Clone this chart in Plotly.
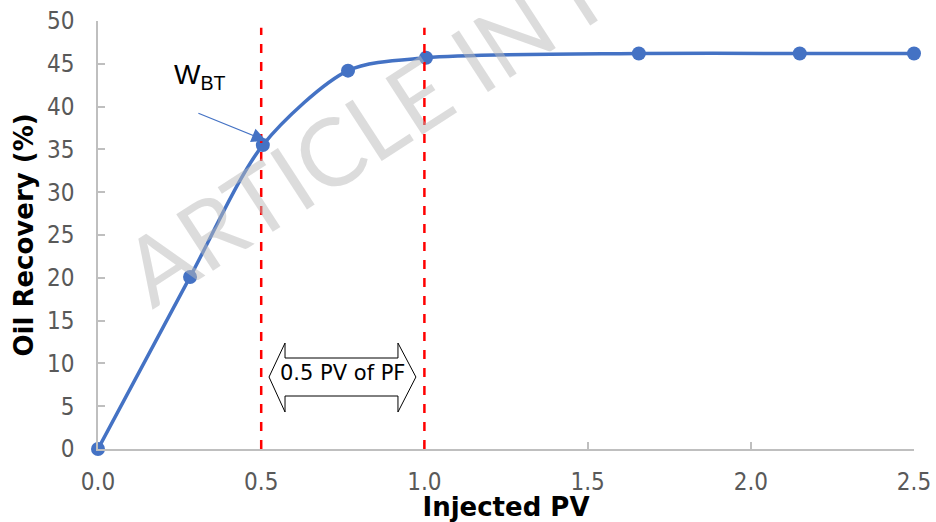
import plotly.graph_objects as go

# Oil recovery versus injected pore volumes
injected_pv = [0.0, 0.282, 0.505, 0.766, 1.005, 1.657, 2.15, 2.5]
oil_recovery = [0.0, 20.1, 35.5, 44.2, 45.7, 46.2, 46.2, 46.2]

x_ticks = [0.0, 0.5, 1.0, 1.5, 2.0, 2.5]
x_tick_labels = ["0.0", "0.5", "1.0", "1.5", "2.0", "2.5"]
y_ticks = [0, 5, 10, 15, 20, 25, 30, 35, 40, 45, 50]

# markers for water breakthrough and end of the polymer-flood slug
marker_pv = [0.5, 1.0]

BLUE = "#4472C4"
GREY_AX = "#BFBFBF"
GREY_TXT = "#595959"
TICK_FONT = "DejaVu Sans Condensed, DejaVu Sans"

fig = go.Figure()

fig.add_trace(go.Scatter(
    x=injected_pv, y=oil_recovery,
    mode="lines+markers",
    line=dict(color=BLUE, width=3.5, shape="spline", smoothing=0.8),
    marker=dict(color=BLUE, size=14),
    cliponaxis=False,
    showlegend=False,
))

shapes = []
for xv in marker_pv:
    shapes.append(dict(
        type="line", xref="x", yref="y",
        x0=xv, x1=xv, y0=0, y1=49.2,
        line=dict(color="#FF0000", width=2.5, dash="dash"),
    ))

# double-headed block arrow spanning 0.5 PV
shapes.append(dict(
    type="path", xref="x", yref="y",
    path=("M 0.524 8.41 L 0.573 12.38 L 0.573 10.63 L 0.919 10.63 L 0.919 12.38 "
          "L 0.974 8.41 L 0.919 4.32 L 0.919 6.19 L 0.573 6.19 L 0.573 4.32 Z"),
    fillcolor="white",
    line=dict(color="black", width=1),
    layer="above",
))

annotations = [
    # watermark
    dict(
        text="ARTICLE IN PRESS", xref="paper", yref="paper",
        x=0.446, y=0.896, showarrow=False, textangle=-33,
        font=dict(family="Lato", size=94, color="rgba(185,185,185,0.5)"),
        xanchor="center", yanchor="middle",
    ),
    dict(
        text="0.5 PV of PF", xref="x", yref="y",
        x=0.748, y=8.9, showarrow=False,
        font=dict(family="DejaVu Sans", size=21, color="black"),
    ),
    dict(
        text="W<sub>BT</sub>", xref="x", yref="y",
        x=0.313, y=43.5, showarrow=False,
        font=dict(family="Liberation Sans", size=28, color="black"),
    ),
    dict(
        text="", xref="x", yref="y",
        x=0.515, y=36.0, ax=0.303, ay=39.3,
        axref="x", ayref="y",
        showarrow=True, arrowhead=2, arrowsize=2.4, arrowwidth=1.2,
        arrowcolor=BLUE,
    ),
]

fig.update_layout(
    width=936, height=522,
    margin=dict(l=98, r=22, t=21, b=73),
    paper_bgcolor="white", plot_bgcolor="white",
    shapes=shapes, annotations=annotations,
    xaxis=dict(
        range=[0, 2.5], tickvals=x_ticks, ticktext=x_tick_labels,
        automargin=False,
        showline=True, linecolor=GREY_AX, linewidth=1.5,
        ticks="inside", ticklen=7, tickcolor=GREY_AX, tickwidth=1.5,
        showgrid=False, zeroline=False, ticklabelstandoff=10,
        tickfont=dict(family=TICK_FONT, size=24, color=GREY_TXT),
        title=dict(text="<b>Injected PV</b>", standoff=6,
                   font=dict(family="DejaVu Sans", size=26, color="black")),
    ),
    yaxis=dict(
        range=[0, 50], tickvals=y_ticks,
        automargin=False,
        showline=True, linecolor=GREY_AX, linewidth=1.5,
        ticks="inside", ticklen=7, tickcolor=GREY_AX, tickwidth=1.5,
        showgrid=False, zeroline=False, ticklabelstandoff=17,
        tickfont=dict(family=TICK_FONT, size=24, color=GREY_TXT),
        title=dict(text="<b>Oil Recovery (%)</b>", standoff=6,
                   font=dict(family="DejaVu Sans", size=26, color="black")),
    ),
)

fig.write_html("out.html")
